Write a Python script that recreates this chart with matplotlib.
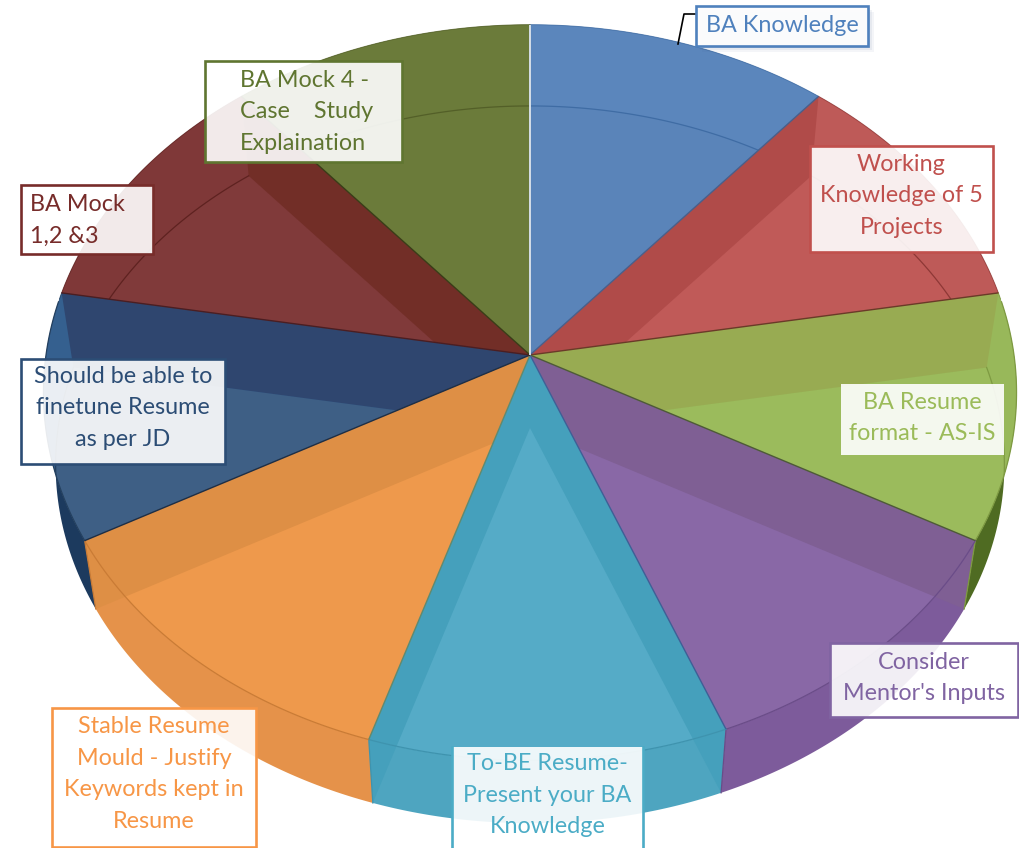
import numpy as np
import matplotlib
matplotlib.use("Agg")
import matplotlib.pyplot as plt
from matplotlib.patches import Polygon, Rectangle
from matplotlib.transforms import Transform

plt.rcParams['font.family'] = ['Lato', 'DejaVu Sans']

# ---- data -------------------------------------------------------------
labels = ["BA Knowledge", "Working\nKnowledge of 5\nProjects", "BA Resume\nformat - AS-IS",
          "Consider\nMentor's Inputs", "To-BE Resume-\nPresent your BA\nKnowledge",
          "Stable Resume\nMould - Justify\nKeywords kept in\nResume",
          "Should be able to\nfinetune Resume\nas per JD", "BA Mock\n1,2 &3",
          "BA Mock 4 -\nCase    Study\nExplaination"]
shares = [40, 40, 39, 39.5, 39, 43.5, 39, 40, 40]

# ---- styles -----------------------------------------------------------
face = ["#5B86BC", "#BE5A58", "#98B85A", "#8968A6", "#55ABC7", "#EE994C", "#35608F", "#7F3838", "#6B7B3A"]
inner = ["#5A84B9", "#C05A58", "#9BBB5C", "#8968A6", "#55ABC7", "#EE994C", "#3E5F85", "#803A3A", "#6B7B3A"]
band = ["#5A84B9", "#B04B49", "#98AB52", "#7F5F94", "#45A0BC", "#DE8F45", "#2F466F", "#722E27", "#6B7B3A"]
side = ["#4F78A8", "#A84A48", "#4F6B22", "#7D5B9B", "#4EA5C0", "#E5924A", "#1C3A5E", "#6E2C2A", "#5A6A30"]
arc_col = ["#3F6CA4", "#8E3836", "#7E9A42", "#6A4C88", "#3E93AE", "#C97B35", "#24405F", "#5E2220", "#535F28"]
edge_col = ["#4A5F8A", "#6A3A28", "#4E5A38", "#3F5F96", "#5F8A70", "#1F2F45", "#4A1E22", "#3A3D18", "#D5DEE8"]
text_col = ["#4F81BD", "#C0504D", "#9BBB59", "#8064A2", "#4BACC6", "#F79646", "#2C4D75", "#772C2A", "#5F7530"]
boxes = [(696, 6, 868, 46), (810, 146, 993, 252), (841, 384, 1004, 455), (830, 643, 1018, 717),
         (452, 747, 643, 860), (52, 708, 256, 847), (21, 359, 225, 464), (21, 185, 153, 254), (205, 61, 402, 162)]
text_y = [26, 196, 418, 678, 795, 774, 408, 220, 112]

CX, CY, A, B, K = 530.0, 355.0, 484.0, 364.0, 0.102
DROP, SHRINK = 73.0, 0.975


def project(X, Y, level=0):
    d = 1 + K * Y
    x, y = A * X / d, -B * Y / d
    if level:
        return np.column_stack([CX + SHRINK * x, CY + DROP + SHRINK * y])
    return np.column_stack([CX + x, CY + y])


class Persp(Transform):
    input_dims = output_dims = 2
    is_affine = False
    has_inverse = False

    def __init__(self, level=0):
        super().__init__()
        self.level = level

    def transform_non_affine(self, values):
        v = np.asarray(values, float)
        return project(v[:, 0], v[:, 1], self.level)


fig = plt.figure(figsize=(10.2, 8.48), dpi=100, facecolor="white")
ax = fig.add_axes([0, 0, 1, 1])

tops, _ = ax.pie(shares, startangle=90, counterclock=False, colors=face)
bots, _ = ax.pie(shares, startangle=90, counterclock=False, colors=inner)
ax.set_aspect("auto")
ax.set_xlim(0, 1020)
ax.set_ylim(848, 0)
ax.axis("off")

for i, (tw, bw) in enumerate(zip(tops, bots)):
    tw.set_transform(Persp(0) + ax.transData)
    tw.set_zorder(2)
    tw.set_linewidth(0)
    bw.set_transform(Persp(1) + ax.transData)
    bw.set_zorder(3)
    bw.set_linewidth(0)
    bw.set_clip_on(True)          # ax.pie switches clipping off on its wedges
    bw.set_clip_path(tw)

    t = np.radians(np.linspace(tw.theta1, tw.theta2, 80))
    X, Y = np.cos(t), np.sin(t)
    rim_top, rim_bot = project(X, Y, 0), project(X, Y, 1)

    # outer wall
    wall = Polygon(np.vstack([rim_top, rim_bot[::-1]]), closed=True, fc=side[i], ec="none", zorder=1)
    ax.add_patch(wall)

    # radial walls, visible only inside the slice itself
    for th in (tw.theta1, tw.theta2):
        cx_, cy_ = np.cos(np.radians(th)), np.sin(np.radians(th))
        zero = np.array([0.0, cx_]), np.array([0.0, cy_])
        a = project(*zero, 0)
        b = project(*zero, 1)
        quad = np.vstack([a[0], a[1], b[1], b[0]])
        ax.add_patch(Polygon(quad, closed=True, fc=band[i], ec="none", zorder=4, clip_path=tw))
        p2 = Polygon(quad, closed=True, fc=band[i], ec="none", zorder=1.5)
        ax.add_patch(p2)
        p2.set_clip_path(wall)

    # bottom rim seen through the translucent top, top rim on the front
    ln, = ax.plot(rim_bot[:, 0], rim_bot[:, 1], color=arc_col[i], lw=0.9, zorder=5)
    ln.set_clip_path(tw)
    front = Y < 0.15
    ax.plot(rim_top[front, 0], rim_top[front, 1], color=arc_col[i], lw=0.9, zorder=5)
    ax.plot(rim_top[~front, 0], rim_top[~front, 1], color=arc_col[i], lw=0.7, alpha=0.7, zorder=5)

    # boundary of the slice
    c = project(np.array([0.0, np.cos(t[0])]), np.array([0.0, np.sin(t[0])]), 0)
    ax.plot(c[:, 0], c[:, 1], color=edge_col[i], lw=1.0 if i != 8 else 1.4, zorder=6, solid_capstyle="butt")
    if Y[0] < 0.15 and X[0] != 0:
        s = np.vstack([rim_top[0], rim_bot[0]])
        ax.plot(s[:, 0], s[:, 1], color=arc_col[i], lw=0.9, zorder=5)

# leader of the first label
ax.plot([678, 684, 696], [44, 14, 14], color="black", lw=1.2, zorder=7)

# first label's soft shadow
for off, al in ((6, 0.06), (4, 0.08), (2, 0.12)):
    x0, y0, x1, y1 = boxes[0]
    ax.add_patch(Rectangle((x0 + off, y0 + off), x1 - x0, y1 - y0, fc="#44618a", ec="none", alpha=al, zorder=7))

for i, (lab, (x0, y0, x1, y1)) in enumerate(zip(labels, boxes)):
    no_edge = i in (2, 4)
    ax.add_patch(Rectangle((x0, y0), x1 - x0, y1 - y0, fc=(1, 1, 1, 0.9),
                           ec="none" if no_edge else text_col[i], lw=1.9, zorder=8))
    if i == 4:
        ax.plot([x0, x0], [y0, y1], color=text_col[i], lw=1.9, zorder=8)
        ax.plot([x1, x1], [y0, y1], color=text_col[i], lw=1.9, zorder=8)
    if i == 7:
        tx, ha = x0 + 9, "left"
    elif i == 8:
        tx, ha = 240, "left"
    else:
        tx, ha = (x0 + x1) / 2, "center"
    ax.text(tx, text_y[i], lab, color=text_col[i], fontsize=16.8, ha=ha, va="center",
            linespacing=1.63, zorder=9)

fig.savefig("out.png", dpi=100, facecolor="white")
